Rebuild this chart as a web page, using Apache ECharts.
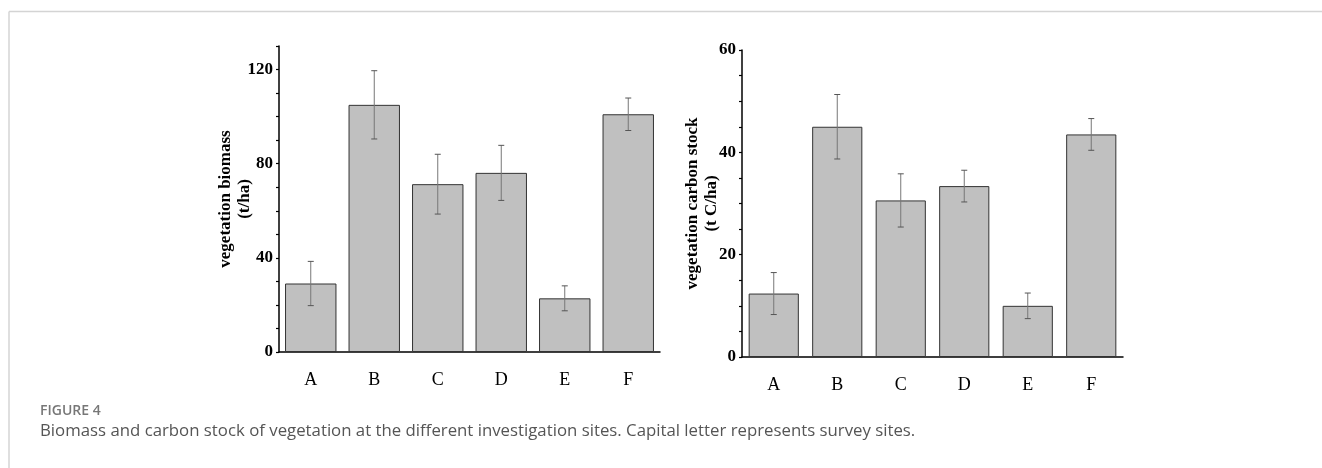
<!DOCTYPE html>
<html>
<head>
<meta charset="utf-8">
<script src="https://cdn.jsdelivr.net/npm/echarts@6/dist/echarts.min.js"></script>
<style>
  html, body { margin: 0; padding: 0; background: #fff; }
  #main { width: 1322px; height: 468px; }
</style>
</head>
<body>
<div id="main"></div>
<script>
// survey sites
const sites = ['A', 'B', 'C', 'D', 'E', 'F']
// vegetation biomass (t/ha), mean and error
const biomass = [29.1, 105.0, 71.3, 76.1, 22.8, 101.0]
const biomassErr = [9.4, 14.5, 12.7, 11.7, 5.3, 6.9]
// vegetation carbon stock (t C/ha), mean and error
const carbon = [12.4, 45.0, 30.6, 33.4, 10.0, 43.5]
const carbonErr = [4.1, 6.3, 5.2, 3.1, 2.5, 3.1]
// labelled ticks
const biomassLabels = [0, 40, 80, 120]
const carbonLabels = [0, 20, 40, 60]

const serif = 'Liberation Serif, Times New Roman, serif'
const sans = 'Open Sans, Noto Sans, sans-serif'

const chart = echarts.init(document.getElementById('main'))

// error bar with caps
function errorBar(params, api) {
  const x = api.value(0)
  const y = api.value(1)
  const e = api.value(2)
  const top = api.coord([x, y + e])
  const bot = api.coord([x, y - e])
  const hw = 3
  const style = { stroke: '#555', lineWidth: 1 }
  return {
    type: 'group',
    children: [
      { type: 'line', shape: { x1: top[0], y1: top[1], x2: bot[0], y2: bot[1] }, style: { stroke: '#777', lineWidth: 1 } },
      { type: 'line', shape: { x1: top[0] - hw, y1: top[1], x2: top[0] + hw, y2: top[1] }, style: style },
      { type: 'line', shape: { x1: bot[0] - hw, y1: bot[1], x2: bot[0] + hw, y2: bot[1] }, style: style }
    ]
  }
}

function xAxes(gridIndex) {
  return [
    {
      type: 'category',
      gridIndex: gridIndex,
      data: sites,
      axisLine: { lineStyle: { color: '#000', width: 1.5 } },
      axisTick: { alignWithLabel: true, length: 5, lineStyle: { color: '#000', width: 1.2 } },
      axisLabel: { color: '#000', fontFamily: serif, fontSize: 18, margin: 19 }
    },
    {
      // short ticks at category boundaries
      type: 'category',
      gridIndex: gridIndex,
      position: 'bottom',
      data: sites,
      axisLine: { show: false },
      axisTick: { length: 2, lineStyle: { color: '#000', width: 1.2 } },
      axisLabel: { show: false }
    }
  ]
}

function yAxis(gridIndex, max, step, labels, name, gap) {
  return {
    type: 'value',
    gridIndex: gridIndex,
    min: 0,
    max: max,
    interval: step,
    name: name,
    nameLocation: 'middle',
    nameGap: gap,
    nameMoveOverlap: false,
    nameTextStyle: { color: '#000', fontFamily: serif, fontWeight: 'bold', fontSize: 17, lineHeight: 19 },
    splitLine: { show: false },
    axisLine: { show: true, lineStyle: { color: '#000', width: 1.5 } },
    axisTick: { show: true, length: 3, lineStyle: { color: '#000', width: 1.2 } },
    axisLabel: {
      color: '#000',
      fontFamily: serif,
      fontWeight: 'bold',
      fontSize: 17,
      margin: 6,
      showMaxLabel: true,
      formatter: function(v) {
        return labels.indexOf(v) >= 0 ? String(v) : ''
      }
    }
  }
}

const barStyle = { color: '#c0c0c0', borderColor: '#333', borderWidth: 1 }

const option = {
  backgroundColor: '#fff',
  animation: false,
  grid: [
    { left: 279, top: 46, width: 381, height: 306 },
    { left: 742, top: 50, width: 381, height: 307 }
  ],
  xAxis: xAxes(0).concat(xAxes(1)),
  yAxis: [
    yAxis(0, 130, 10, biomassLabels, 'vegetation biomass\n(t/ha)', 25),
    yAxis(1, 60, 5, carbonLabels, 'vegetation carbon stock\n(t C/ha)', 21)
  ],
  series: [
    {
      type: 'bar',
      xAxisIndex: 0,
      yAxisIndex: 0,
      data: biomass,
      barCategoryGap: '19%',
      itemStyle: barStyle
    },
    {
      type: 'custom',
      xAxisIndex: 0,
      yAxisIndex: 0,
      renderItem: errorBar,
      data: sites.map((s, i) => [i, biomass[i], biomassErr[i]]),
      z: 3
    },
    {
      type: 'bar',
      xAxisIndex: 2,
      yAxisIndex: 1,
      data: carbon,
      barCategoryGap: '21%',
      itemStyle: barStyle
    },
    {
      type: 'custom',
      xAxisIndex: 2,
      yAxisIndex: 1,
      renderItem: errorBar,
      data: sites.map((s, i) => [i, carbon[i], carbonErr[i]]),
      z: 3
    }
  ],
  graphic: [
    { type: 'line', shape: { x1: 9, y1: 11.5, x2: 1322, y2: 11.5 }, style: { stroke: '#d4d4d4', lineWidth: 1.5 } },
    { type: 'line', shape: { x1: 9, y1: 11.5, x2: 9, y2: 468 }, style: { stroke: '#d4d4d4', lineWidth: 1.5 } },
    { type: 'text', left: 40, top: 404, style: { text: 'FIGURE 4', fill: '#777', font: '600 14px ' + sans } },
    {
      type: 'text', left: 40, top: 423,
      style: {
        text: 'Biomass and carbon stock of vegetation at the different investigation sites. Capital letter represents survey sites.',
        fill: '#555', font: '16.8px ' + sans
      }
    }
  ]
}

chart.setOption(option)
window.addEventListener('resize', () => chart.resize())
</script>
</body>
</html>
